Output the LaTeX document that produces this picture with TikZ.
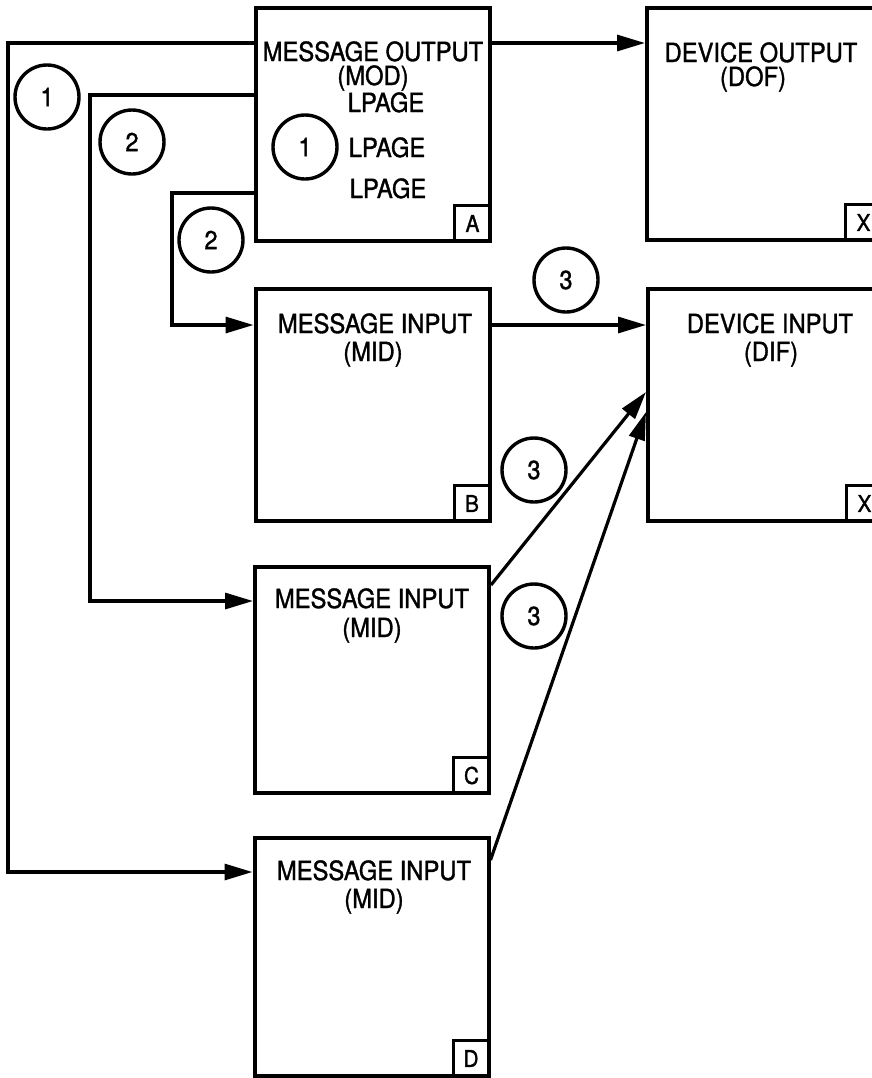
\documentclass[tikz,border=0pt]{standalone}
\usepackage{fontspec}
\setmainfont{TeX Gyre Heros}
\newfontfamily\lblfont[FakeBold=1.3,FakeStretch=0.9]{TeX Gyre Heros}
\usetikzlibrary{arrows.meta,positioning}
\tikzset{
  block/.style={draw,rectangle,line width=2pt,minimum width=117pt,inner sep=0pt},
  tag/.style={draw,rectangle,line width=1.5pt,minimum size=18pt,inner sep=0pt,anchor=south east,font=\lblfont\fontsize{11.5}{12}\selectfont},
  num/.style={draw,circle,line width=1.7pt,minimum size=32pt,inner sep=0pt,font=\lblfont\fontsize{13}{14}\selectfont},
  lbl/.style={inner sep=0pt,anchor=base,font=\lblfont\fontsize{13.2}{15}\selectfont},
  conn/.style={line width=1.6pt,-{Triangle[length=14pt,width=8pt]}},
}

\begin{document}
\begin{tikzpicture}[x=0.5pt,y=-0.5pt]
  \useasboundingbox (0,0) rectangle (872,1078);
  \clip (0,0) rectangle (872,1078);
  % boxes
  \node[block,minimum height=116.5pt] (A)   at (373,124.5) {};
  \node[block,minimum height=116pt]   (DOF) at (764,124) {};
  \node[block,minimum height=116pt]   (B)   at (372.5,405) {};
  \node[block,minimum height=116pt]   (DIF) at (765,405) {};
  \node[block,minimum height=113pt]   (C)   at (372,680) {};
  \node[block,minimum height=119pt]   (D)   at (371.5,957) {};
  \node[tag] (tA) at (A.south east) {A};
  \node[tag] (tB) at (B.south east) {B};
  \node[tag] (tC) at (C.south east) {C};
  \node[tag] (tD) at (D.south east) {D};
  \node[tag] (tX1) at (DOF.south east) {X};
  \node[tag] (tX2) at (DIF.south east) {X};
  % texts
  \node[lbl] (modt) at (373,61) {MESSAGE OUTPUT};
  \node[lbl] (mods) at (373,85) {(MOD)};
  \node[lbl] (lp1)  at (386,112) {LPAGE};
  \node[lbl] (lp2)  at (387,157) {LPAGE};
  \node[lbl] (lp3)  at (388,198) {LPAGE};
  \node[lbl] (doft) at (761,62) {DEVICE OUTPUT};
  \node[lbl] (dofs) at (753,86) {(DOF)};
  \node[lbl] (mbt)  at (375,333) {MESSAGE INPUT};
  \node[lbl] (mbs)  at (373,361) {(MID)};
  \node[lbl] (dift) at (770,333) {DEVICE INPUT};
  \node[lbl] (difs) at (771,361) {(DIF)};
  \node[lbl] (mct)  at (372,608) {MESSAGE INPUT};
  \node[lbl] (mcs)  at (372,637) {(MID)};
  \node[lbl] (mdt)  at (374,880) {MESSAGE INPUT};
  \node[lbl] (mds)  at (374,908) {(MID)};
  % numbered circles
  \node[num] (n1)  at (47,97) {1};
  \node[num] (n2)  at (132,142) {2};
  \node[num] (n1a) at (305,147) {1};
  \node[num] (n2b) at (211,240) {2};
  \node[num] (n3a) at (566,280) {3};
  \node[num] (n3b) at (534,470) {3};
  \node[num] (n3c) at (534,616) {3};
  % routing corners
  \coordinate (k1)  at (8,43);
  \coordinate (k1d) at (8,872);
  \coordinate (k2)  at (90,95);
  \coordinate (k2c) at (90,601);
  \coordinate (k3)  at (172,193);
  \coordinate (k3b) at (172,325);
  % connectors
  \draw[conn] (A.east |- k1) -- (DOF.west |- k1);
  \draw[conn] (A.west |- k1) -- (k1) -- (k1d) -- (D.west |- k1d);
  \draw[conn] (A.west |- k2) -- (k2) -- (k2c) -- (C.west |- k2c);
  \draw[conn] (A.west |- k3) -- (k3) -- (k3b) -- (B.west |- k3b);
  \draw[conn] (B.east |- k3b) -- (DIF.west |- k3b);
  \draw[conn] (C.east |- 0,585) -- (DIF.west |- 0,392);
  \draw[conn] (D.east |- 0,860) -- (DIF.west |- 0,412);
\end{tikzpicture}
\end{document}
